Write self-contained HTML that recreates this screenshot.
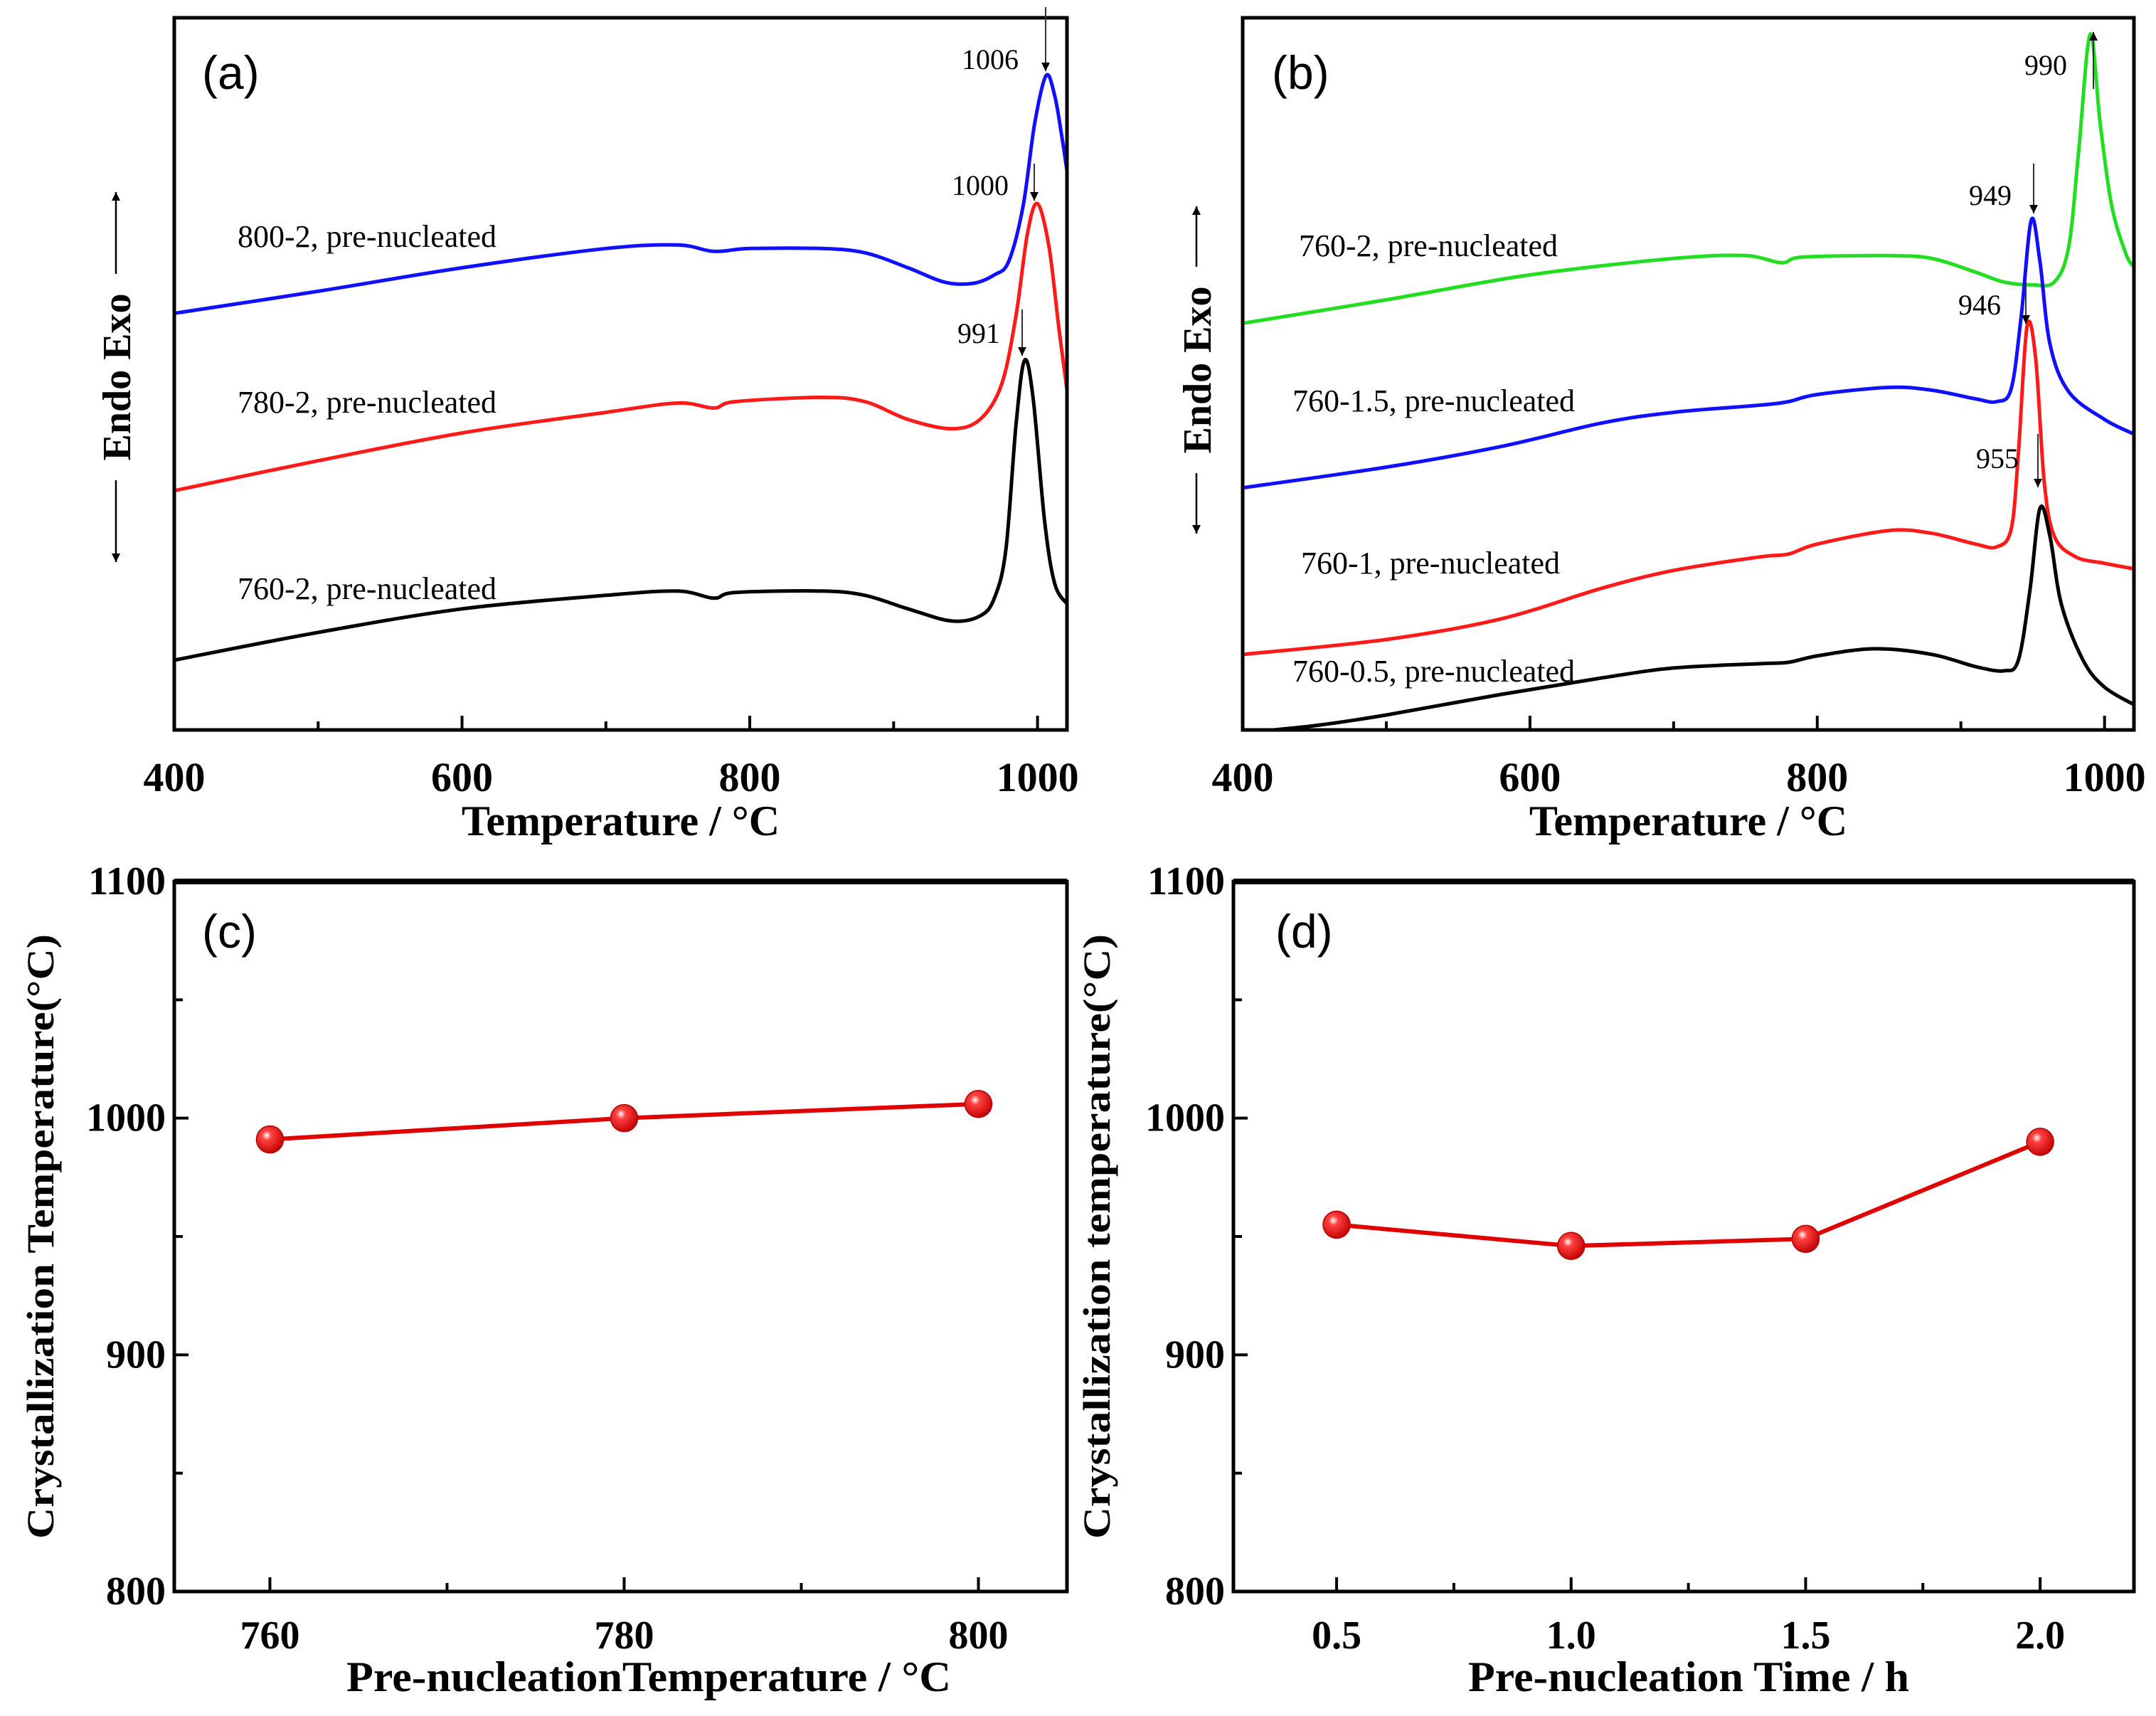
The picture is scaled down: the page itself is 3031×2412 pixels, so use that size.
<!DOCTYPE html>
<html><head><meta charset="utf-8"><style>
html,body{margin:0;padding:0;background:#fff;}
svg{display:block;}
text{font-family:"Liberation Serif",serif;}
.tick{font-weight:bold;font-size:58px;}
.ttl{font-weight:bold;font-size:60px;}
.lbl{font-size:44px;}
.pk{font-size:40px;}
.pl{font-family:"Liberation Sans",sans-serif;font-size:66px;font-weight:300;}
</style></head><body>
<svg id="fig" width="3031" height="2412" viewBox="0 0 3031 2412" xmlns="http://www.w3.org/2000/svg">
<defs>
<radialGradient id="ball" cx="0.38" cy="0.35" r="0.7">
<stop offset="0" stop-color="#fff"/><stop offset="0.25" stop-color="#ff4040"/><stop offset="1" stop-color="#c00000"/>
</radialGradient>
<marker id="ah" viewBox="0 0 10 10" refX="10" refY="5" markerWidth="16" markerHeight="12" orient="auto" markerUnits="userSpaceOnUse"><path d="M0,0 L10,5 L0,10 z" fill="#000"/></marker>
</defs>
<g id="root"></g>
</svg>
<script>
// ---------- data ----------
const tempA = [400,500,600,700,750,775,800,850,880,910,935,955,970,980,990,998,1006,1012,1017,1021];
const a800 = [58.5,61.6,64.9,67.6,68.1,67.2,67.6,67.6,67.0,64.9,62.9,62.7,63.9,65.8,73.6,85.1,91.9,89.0,83.2,77.8];
const tempA2 = [400,500,600,700,750,775,790,850,880,910,940,960,975,985,993,1000,1008,1015,1021];
const a780 = [33.6,37.8,41.7,44.6,45.9,45.2,46.1,46.7,46.1,43.6,42.3,43.6,48.5,58.1,69.7,73.9,67.8,56.2,46.9];
const tempA3 = [400,500,600,700,750,775,790,850,880,910,940,960,970,978,985,991,997,1005,1012,1021];
const a760 = [9.8,13.7,17.0,18.9,19.5,18.5,19.3,19.5,18.9,17.0,15.3,16.0,18.5,25.3,42.7,51.9,46.5,29.2,20.5,17.6];
const tempB1 = [400,500,600,700,750,775,790,850,880,910,930,950,965,975,982,990,997,1005,1015,1021];
const b2 = [57.1,60.4,63.9,66.2,66.6,65.6,66.4,66.6,66.2,64.3,62.9,62.5,62.9,67.8,81.3,97.7,85.1,73.6,66.8,64.9];
const tempB2 = [400,500,580,650,700,760,780,800,850,880,910,925,935,942,949,955,962,975,1000,1021];
const b15 = [34.0,36.9,39.8,43.1,44.6,45.6,46.1,47.1,48.1,47.7,46.5,46.1,47.9,58.1,71.6,65.8,54.2,47.5,43.6,41.5];
const tempB3 = [400,500,580,650,700,760,780,800,850,880,910,925,935,940,946,952,958,965,980,1000,1021];
const b1 = [10.6,12.7,15.6,19.9,22.4,24.3,24.7,26.1,28.0,27.6,26.1,25.7,28.2,38.8,56.6,52.3,34.9,27.2,24.3,23.4,22.6];
const tempB4 = [400,450,500,580,650,700,760,780,800,840,880,910,930,940,948,955,962,970,985,1000,1021];
const b05 = [-0.4,0.6,2.1,5.0,7.3,8.7,9.3,9.5,10.4,11.4,10.6,8.9,8.3,9.8,19.5,31.1,27.2,17.6,9.8,6.0,3.5];
const xTicksDSC = [400,600,800,1000];
const cX = [760,780,800];
const cY = [991,1000,1006];
const cXTicks = [760,780,800];
const dX = [0.5,1.0,1.5,2.0];
const dY = [955,946,949,990];
const dXTicks = ["0.5","1.0","1.5","2.0"];
const yTicksCD = [800,900,1000,1100];

const NS="http://www.w3.org/2000/svg";
const root=document.getElementById('root');
function el(tag,attrs,parent,txt){const e=document.createElementNS(NS,tag);for(const k in attrs)e.setAttribute(k,attrs[k]);if(txt!==undefined)e.textContent=txt;(parent||root).appendChild(e);return e;}
function lin(d0,d1,r0,r1){return v=>r0+(v-d0)*(r1-r0)/(d1-d0);}
function smooth(pts){let d='M'+pts[0][0]+','+pts[0][1];for(let i=0;i<pts.length-1;i++){const p0=pts[Math.max(0,i-1)],p1=pts[i],p2=pts[i+1],p3=pts[Math.min(pts.length-1,i+2)];const c1x=p1[0]+(p2[0]-p0[0])/6,c1y=p1[1]+(p2[1]-p0[1])/6,c2x=p2[0]-(p3[0]-p1[0])/6,c2y=p2[1]-(p3[1]-p1[1])/6;d+=` C${c1x.toFixed(1)},${c1y.toFixed(1)} ${c2x.toFixed(1)},${c2y.toFixed(1)} ${p2[0].toFixed(1)},${p2[1].toFixed(1)}`;}return d;}

function dscPanel(name,L,R,T,B,curves,labels,peaks,letter,ylab){
  const g=el('g',{},root);
  
  
  const xs=lin(400,1000,L,L+0.967*(R-L)), ys=lin(0,100,B,T);
  const cid='clip'+name;const cp=el('clipPath',{id:cid},g);el('rect',{x:L,y:T,width:R-L,height:B-T},cp);
  curves.forEach(c=>{const p=el('path',{d:smooth(c.t.map((t,i)=>[xs(t),ys(c.v[i])])),fill:'none',stroke:c.col,'stroke-width':5,'clip-path':`url(#${cid})`},g);
    
    });
  const box=el('rect',{x:L,y:T,width:R-L,height:B-T,fill:'none',stroke:'#000','stroke-width':5},g);
  
  
  for(let t=400;t<=1000;t+=100){el('line',{x1:xs(t),x2:xs(t),y1:B,y2:B-(t%200?12:20),stroke:'#000','stroke-width':4},g);}
  xTicksDSC.forEach(t=>{const tx=el('text',{x:xs(t),y:B+86,'text-anchor':'middle',class:'tick'},g,String(t));
    
    });
  const xt=el('text',{x:(L+R)/2,y:B+148,'text-anchor':'middle',class:'ttl'},g,'Temperature / °C');
  
  
  labels.forEach(l=>{const tx=el('text',{x:l[0],y:l[1],class:'lbl'},g,l[2]);
    
    });
  peaks.forEach(p=>{el('line',{x1:p[3],x2:p[3],y1:p[4],y2:p[5],stroke:'#333','stroke-width':2,'marker-end':'url(#ah)'},g);
    const tx=el('text',{x:p[0],y:p[1],class:'pk'},g,p[2]);
    
    });
  const lt=el('text',{x:letter[0],y:letter[1],class:'pl'},g,letter[2]);
  
  
  // Endo/Exo axis
  const [cx,y0,y1]=ylab; const mid=(y0+y1)/2;
  el('line',{x1:cx,x2:cx,y1:mid,y2:y0,stroke:'#000','stroke-width':2.5,'marker-end':'url(#ah)'},g);
  el('line',{x1:cx,x2:cx,y1:mid,y2:y1,stroke:'#000','stroke-width':2.5,'marker-end':'url(#ah)'},g);
  el('rect',{x:cx-30,y:mid-145,width:60,height:290,fill:'#fff'},g);
  const yl=el('text',{x:0,y:0,transform:`translate(${cx+20},${mid}) rotate(-90)`,'text-anchor':'middle',class:'ttl',style:'font-size:56px'},g,'Endo Exo');
  
  
}

dscPanel('panel-a',245,1500,25,1026,
 [{t:tempA,v:a800,col:'#1010ff',n:'curve-800-2'},{t:tempA2,v:a780,col:'#ff1a1a',n:'curve-780-2'},{t:tempA3,v:a760,col:'#000',n:'curve-760-2'}],
 [[334,347,'800-2, pre-nucleated'],[334,580,'780-2, pre-nucleated'],[334,842,'760-2, pre-nucleated']],
 [[1352,97,'1006',1470,10,100],[1338,274,'1000',1454,230,282],[1346,482,'991',1437,435,500]],
 [284,125,'(a)'],[163,270,790]);
dscPanel('panel-b',1747,3000,25,1026,
 [{t:tempB1,v:b2,col:'#22dd22',n:'curve-760-2-b'},{t:tempB2,v:b15,col:'#1010ff',n:'curve-760-1.5'},{t:tempB3,v:b1,col:'#ff1a1a',n:'curve-760-1'},{t:tempB4,v:b05,col:'#000',n:'curve-760-0.5'}],
 [[1826,360,'760-2, pre-nucleated'],[1817,578,'760-1.5, pre-nucleated'],[1829,806,'760-1, pre-nucleated'],[1817,958,'760-0.5, pre-nucleated']],
 [[2846,105,'990',2943,125,45],[2768,288,'949',2859,230,300],[2753,442,'946',2848,395,455],[2778,658,'955',2865,610,685]],
 [1788,125,'(b)'],[1682,290,750]);

function ptPanel(name,L,R,T,B,xd0,xd1,xv,yv,xticks,xtl,minor,ytitle,xtitle,letter){
  const g=el('g',{},root);
  
  
  const xs=lin(xd0,xd1,L,R), ys=lin(800,1100,B,T);
  const box=el('rect',{x:L,y:T,width:R-L,height:B-T,fill:'none',stroke:'#000','stroke-width':5},g);
  
  
  el('line',{x1:L,x2:R,y1:T,y2:T,stroke:'#000','stroke-width':8},g);
  yTicksCD.forEach(v=>{el('line',{x1:L,x2:L+20,y1:ys(v),y2:ys(v),stroke:'#000','stroke-width':4},g);
    const tx=el('text',{x:L-12,y:ys(v)+18,'text-anchor':'end',class:'tick',style:'font-size:56px'},g,String(v));
    
    });
  [850,950,1050].forEach(v=>el('line',{x1:L,x2:L+12,y1:ys(v),y2:ys(v),stroke:'#000','stroke-width':4},g));
  xticks.forEach((v,i)=>{el('line',{x1:xs(v),x2:xs(v),y1:B,y2:B-20,stroke:'#000','stroke-width':4},g);
    const tx=el('text',{x:xs(v),y:B+80,'text-anchor':'middle',class:'tick',style:'font-size:56px'},g,xtl[i]);
    
    });
  minor.forEach(v=>el('line',{x1:xs(v),x2:xs(v),y1:B,y2:B-12,stroke:'#000','stroke-width':4},g));
  const ln=el('polyline',{points:xv.map((x,i)=>xs(x)+','+ys(yv[i])).join(' '),fill:'none',stroke:'#e00000','stroke-width':6},g);
  
  
  xv.forEach((x,i)=>{const c=el('circle',{cx:xs(x),cy:ys(yv[i]),r:19,fill:'url(#ball)',stroke:'#b00000','stroke-width':1.5},g);
    
    });
  const yt=el('text',{x:0,y:0,transform:`translate(${ytitle[0]},${(T+B)/2}) rotate(-90)`,'text-anchor':'middle',class:'ttl',textLength:ytitle[2],lengthAdjust:'spacingAndGlyphs',style:'font-size:54px'},g,ytitle[1]);
  
  
  const xt=el('text',{x:xtitle[2],y:B+140,'text-anchor':'middle',class:'ttl',textLength:xtitle[1],lengthAdjust:'spacingAndGlyphs'},g,xtitle[0]);
  
  
  const lt=el('text',{x:letter[0],y:letter[1],class:'pl'},g,letter[2]);
  
  
}
ptPanel('panel-c',245,1500,1239,2237,754.6,805,cX,cY,cXTicks,cXTicks.map(String),[770,790],[75,'Crystallization Temperature(°C)',850],['Pre-nucleationTemperature / °C',850,912],[284,1332,'(c)']);
ptPanel('panel-d',1734,3000,1239,2237,0.28,2.2,dX,dY,dX,dXTicks,[0.75,1.25,1.75],[1560,'Crystallization temperature(°C)',850],['Pre-nucleation Time / h',620,2374],[1793,1332,'(d)']);
</script>
</body></html>
